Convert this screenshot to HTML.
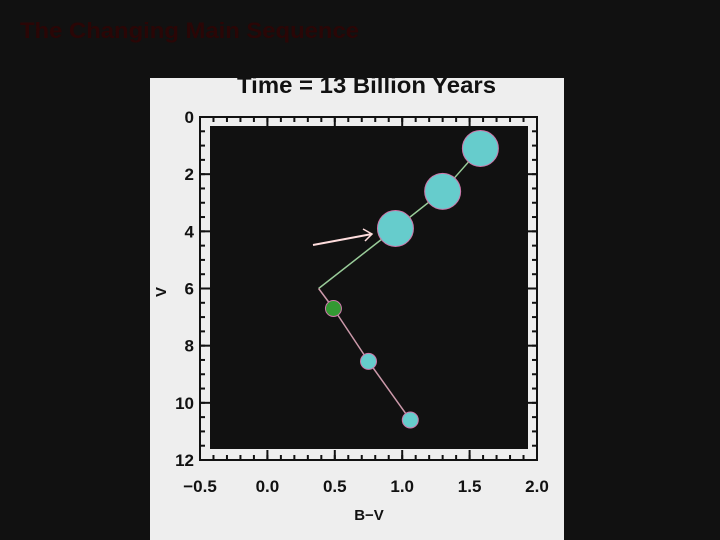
<!DOCTYPE html>
<html><head><meta charset="utf-8"><style>
html,body{margin:0;padding:0;background:#111;width:720px;height:540px;overflow:hidden}
svg{display:block;font-family:"Liberation Sans",sans-serif}
</style></head><body>
<svg id="chart" width="720" height="540" viewBox="0 0 720 540">
<rect x="0" y="0" width="720" height="540" fill="#111"/>
<text x="20" y="38" font-size="22" font-weight="bold" fill="#2a0606" textLength="339" lengthAdjust="spacingAndGlyphs">The Changing Main Sequence</text>
<defs><clipPath id="pc"><rect x="150" y="78" width="414" height="462"/></clipPath></defs>
<rect x="150" y="78" width="414" height="462" fill="#eeeeee"/>
<g clip-path="url(#pc)">
<text x="237" y="93" font-size="23" font-weight="bold" fill="#111" textLength="259" lengthAdjust="spacingAndGlyphs">Time = 13 Billion Years</text>
</g>
<rect x="200" y="117" width="337" height="343" fill="none" stroke="#111" stroke-width="2"/>
<rect x="210" y="126" width="318" height="323" fill="#111"/>
<g id="axes"></g>
<g id="marks"></g>
<text x="166" y="292" font-size="15" font-weight="bold" fill="#111" text-anchor="middle" transform="rotate(-90 166 292)">V</text>
<text x="369" y="520" font-size="15" font-weight="bold" fill="#111" text-anchor="middle">B−V</text>
</svg>
<script>
const xTicks=[-0.5,0,0.5,1.0,1.5,2.0];
const xTickLabels=["−0.5","0.0","0.5","1.0","1.5","2.0"];
const yTicks=[0,2,4,6,8,10,12];
const pathBV=[1.58,1.3,0.95,0.38,0.49,0.75,1.06];
const pathV=[1.1,2.6,3.9,6.0,6.7,8.55,10.6];
const starBV=[1.58,1.3,0.95,0.49,0.75,1.06];
const starV=[1.1,2.6,3.9,6.7,8.55,10.6];
const starSize=[18,18,18,8,8,8];
const starColor=["#66cccc","#66cccc","#66cccc","#339933","#66cccc","#66cccc"];
const NS="http://www.w3.org/2000/svg";
const X=v=>200+(v+0.5)/2.5*337;
const Y=v=>117+v/12*343;
function mk(t,a,p){const e=document.createElementNS(NS,t);for(const k in a)e.setAttribute(k,a[k]);p.appendChild(e);return e;}
const ax=document.getElementById('axes'),mg=document.getElementById('marks');
for(let v=-0.5;v<=2.0001;v+=0.1){
 const x=X(v);
 const m1=mk('line',{x1:x,x2:x,y1:460,y2:455,stroke:'#111','stroke-width':2},ax);
 
 
 const m2=mk('line',{x1:x,x2:x,y1:117,y2:122,stroke:'#111','stroke-width':2},ax);
 
 
}
for(let v=0;v<=12;v+=0.5){
 const y=Y(v);
 const m1=mk('line',{x1:200,x2:205,y1:y,y2:y,stroke:'#111','stroke-width':2},ax);
 
 
 const m2=mk('line',{x1:532,x2:537,y1:y,y2:y,stroke:'#111','stroke-width':2},ax);
 
 
}
xTicks.forEach((v,i)=>{
 const x=X(v);
 const t1=mk('line',{x1:x,x2:x,y1:460,y2:450,stroke:'#111','stroke-width':2},ax);
 
 
 const t2=mk('line',{x1:x,x2:x,y1:117,y2:127,stroke:'#111','stroke-width':2},ax);
 
 
 const l=mk('text',{x:x,y:492,'font-size':17,'font-weight':'bold','text-anchor':'middle',fill:'#111'},ax);
 l.textContent=xTickLabels[i];
 
 
});
yTicks.forEach(v=>{
 const y=Y(v);
 const t1=mk('line',{x1:200,x2:210,y1:y,y2:y,stroke:'#111','stroke-width':2},ax);
 
 
 const t2=mk('line',{x1:527,x2:537,y1:y,y2:y,stroke:'#111','stroke-width':2},ax);
 
 
 const l=mk('text',{x:194,y:y+6,'font-size':17,'font-weight':'bold','text-anchor':'end',fill:'#111'},ax);
 l.textContent=String(v);
 
 
});
for(let i=0;i<pathBV.length-1;i++){
 const s=mk('line',{x1:X(pathBV[i]),y1:Y(pathV[i]),x2:X(pathBV[i+1]),y2:Y(pathV[i+1]),stroke:i<3?'#99cc99':'#cc99aa','stroke-width':1.5},mg);
 
 
}
const ar=mk('g',{},mg);


mk('line',{x1:313,y1:245,x2:372,y2:234,stroke:'#ffdddd','stroke-width':2},ar);
mk('polyline',{points:'363,229 372,234 365,241',fill:'none',stroke:'#ffdddd','stroke-width':1.5},ar);
starBV.forEach((b,i)=>{
 const c=mk('circle',{cx:X(b),cy:Y(starV[i]),r:starSize[i],fill:starColor[i],stroke:'#cc77aa','stroke-width':1},mg);
 
 
});
</script>
</body></html>
